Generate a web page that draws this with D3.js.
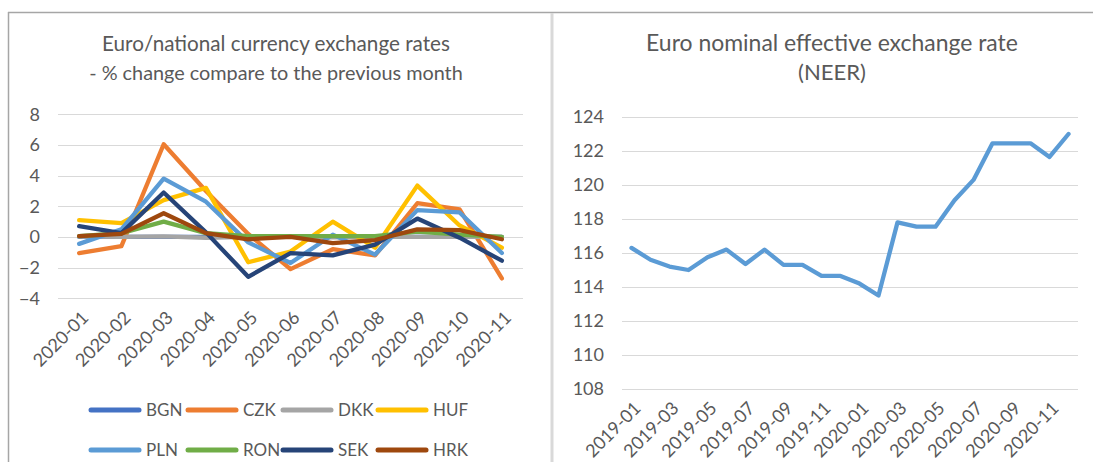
<!DOCTYPE html>
<html>
<head>
<meta charset="utf-8">
<script src="https://cdn.jsdelivr.net/npm/d3@7"></script>
<style>
  body { margin: 0; background: #fff; }
  svg { display: block; font-family: Lato, "Open Sans", sans-serif; }
  .grid line { stroke: #d9d9d9; stroke-width: 1; }
  .tick-label { fill: #595959; }
</style>
</head>
<body>
<svg id="chart" width="1093" height="462"></svg>
<script>
// left chart: % change month on month
const months = ["2020-01", "2020-02", "2020-03", "2020-04", "2020-05", "2020-06",
                "2020-07", "2020-08", "2020-09", "2020-10", "2020-11"];
const currencies = ["BGN", "CZK", "DKK", "HUF", "PLN", "RON", "SEK", "HRK"];
const bgn = [0, 0, 0, 0, 0, 0, 0, 0, 0, 0, 0];
const czk = [-1.05, -0.6, 6.05, 3.0, 0.2, -2.1, -0.8, -1.2, 2.2, 1.8, -2.7];
const dkk = [0.02, 0.0, 0.04, -0.05, 0.0, 0.0, -0.02, 0.0, 0.0, 0.0, 0.0];
const huf = [1.1, 0.9, 2.4, 3.2, -1.65, -0.95, 1.0, -0.7, 3.35, 0.75, -0.7];
const pln = [-0.45, 0.5, 3.8, 2.3, -0.35, -1.7, 0.15, -1.15, 1.75, 1.6, -1.05];
const ron = [0.05, 0.25, 1.0, 0.25, 0.05, 0.05, 0.05, 0.05, 0.35, 0.15, 0.0];
const sek = [0.7, 0.25, 2.9, 0.3, -2.6, -1.05, -1.2, -0.5, 1.2, -0.05, -1.55];
const hrk = [0.05, 0.2, 1.55, 0.25, -0.15, 0.0, -0.4, -0.2, 0.5, 0.45, -0.15];
const leftTicks = [-4, -2, 0, 2, 4, 6, 8];

// right chart: NEER
const neerMonths = ["2019-01", "2019-02", "2019-03", "2019-04", "2019-05", "2019-06",
                    "2019-07", "2019-08", "2019-09", "2019-10", "2019-11", "2019-12",
                    "2020-01", "2020-02", "2020-03", "2020-04", "2020-05", "2020-06",
                    "2020-07", "2020-08", "2020-09", "2020-10", "2020-11", "2020-12"];
const neer = [116.3, 115.6, 115.2, 115.0, 115.75, 116.2, 115.35, 116.2, 115.3, 115.3,
              114.65, 114.65, 114.2, 113.5, 117.8, 117.55, 117.55, 119.1, 120.3,
              122.45, 122.45, 122.45, 121.65, 123.0];
const rightTicks = [108, 110, 112, 114, 116, 118, 120, 122, 124];

const colors = ["#4472C4", "#ED7D31", "#A5A5A5", "#FFC000", "#5B9BD5", "#70AD47", "#264478", "#9E480E"];
const seriesValues = [bgn, czk, dkk, huf, pln, ron, sek, hrk];

const svg = d3.select("#chart");

// panel frames
svg.append("line").attr("x1", 8).attr("x2", 1093).attr("y1", 12.5).attr("y2", 12.5)
    .attr("stroke", "#a6a6a6").attr("stroke-width", 1.5);
svg.append("line").attr("x1", 8.5).attr("x2", 8.5).attr("y1", 12).attr("y2", 462)
    .attr("stroke", "#a6a6a6").attr("stroke-width", 1.5);
svg.append("line").attr("x1", 552).attr("x2", 552).attr("y1", 13).attr("y2", 462)
    .attr("stroke", "#d9d9d9").attr("stroke-width", 3);

function fitText(sel, width) {
    const w = sel.node().getComputedTextLength();
    const fs = parseFloat(sel.attr("font-size"));
    sel.attr("font-size", fs * width / w);
}

function title(lines, cx, widths) {
    lines.forEach((t, i) => {
        const el = svg.append("text")
            .attr("x", cx).attr("y", 51 + i * 29)
            .attr("text-anchor", "middle")
            .attr("fill", "#595959")
            .attr("font-size", 19)
            .text(t);
        fitText(el, widths[i]);
    });
}

function drawChart(cfg) {
    const x = d3.scaleBand().domain(cfg.cats).range([cfg.x0, cfg.x1]);
    const y = d3.scaleLinear().domain(cfg.yDomain).range([cfg.y0, cfg.y1]);

    const g = svg.append("g");

    g.append("g").attr("class", "grid")
        .selectAll("line").data(cfg.ticks).join("line")
        .attr("x1", cfg.x0).attr("x2", cfg.x1)
        .attr("y1", d => Math.round(y(d)) + 0.5).attr("y2", d => Math.round(y(d)) + 0.5);

    const yAxis = d3.axisLeft(y).tickValues(cfg.ticks).tickSize(0).tickPadding(18);
    g.append("g").attr("transform", `translate(${cfg.x0},0)`).call(yAxis)
        .call(a => a.select(".domain").remove())
        .selectAll("text")
        .attr("class", "tick-label")
        .attr("font-family", "Lato, sans-serif")
        .attr("font-size", 18);

    g.append("g").selectAll("text").data(cfg.labels).join("text")
        .attr("class", "tick-label")
        .attr("font-size", 18)
        .attr("text-anchor", "end")
        .attr("dy", "0.35em")
        .attr("transform", d => `translate(${x(d) + x.bandwidth() / 2 + 6},${cfg.y0 + 16}) rotate(-45)`)
        .text(d => d);

    const line = d3.line()
        .x((d, i) => x(cfg.cats[i]) + x.bandwidth() / 2)
        .y(d => y(d));

    g.append("g").selectAll("path").data(cfg.series).join("path")
        .attr("fill", "none")
        .attr("stroke", (d, i) => cfg.colors[i])
        .attr("stroke-width", 4.3)
        .attr("stroke-linejoin", "round")
        .attr("stroke-linecap", "round")
        .attr("d", d => line(d));
}

title(["Euro/national currency exchange rates", "- % change compare to the previous month"], 276, [348, 374]);
title(["Euro nominal effective exchange rate", "(NEER)"], 832, [372, 68]);

drawChart({
    cats: months, labels: months,
    x0: 58, x1: 523, y0: 298.3, y1: 114.3,
    yDomain: [-4, 8], ticks: leftTicks,
    series: seriesValues, colors: colors
});

drawChart({
    cats: neerMonths, labels: neerMonths.filter((d, i) => i % 2 === 0),
    x0: 622, x1: 1078, y0: 389, y1: 117,
    yDomain: [108, 124], ticks: rightTicks,
    series: [neer], colors: ["#5B9BD5"]
});

// legend
const legendX = [91, 188, 283, 378];
const legendY = [410, 450];
const legend = svg.append("g").selectAll("g").data(currencies).join("g")
    .attr("transform", (d, i) => `translate(${legendX[i % 4]},${legendY[Math.floor(i / 4)]})`);
legend.append("line")
    .attr("x1", 0).attr("x2", 48).attr("y1", 0).attr("y2", 0)
    .attr("stroke", (d, i) => colors[i])
    .attr("stroke-width", 5)
    .attr("stroke-linecap", "round");
legend.append("text")
    .attr("x", 55).attr("dy", "0.35em")
    .attr("fill", "#595959")
    .attr("font-size", 17)
    .text(d => d);
</script>
</body>
</html>
